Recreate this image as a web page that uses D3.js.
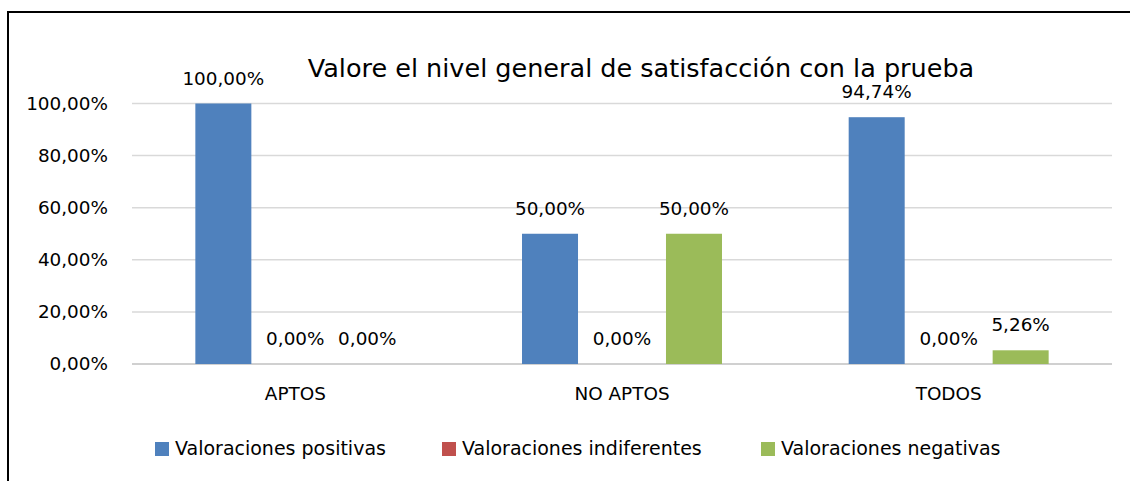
<!DOCTYPE html>
<html>
<head>
<meta charset="utf-8">
<script src="https://cdn.jsdelivr.net/npm/d3@7"></script>
<style>
body{margin:0;background:#fff}
text{font-family:"DejaVu Sans",sans-serif;fill:#000}
</style>
</head>
<body>
<script>
// data
var categories = ["APTOS", "NO APTOS", "TODOS"]
var series = ["Valoraciones positivas", "Valoraciones indiferentes", "Valoraciones negativas"]
var colors = ["#4F81BD", "#C0504D", "#9BBB59"]
var positivas = [1.0, 0.5, 0.9474]
var indiferentes = [0, 0, 0]
var negativas = [0, 0.5, 0.0526]
var yTicks = [0, 0.2, 0.4, 0.6, 0.8, 1.0]
var title = "Valore el nivel general de satisfacción con la prueba"

var values = [positivas, indiferentes, negativas]

var W = 1130, H = 481
var svg = d3.select("body").append("svg")
	.attr("width", W)
	.attr("height", H)

// outer frame
svg.append("rect")
	.attr("x", 8)
	.attr("y", 12)
	.attr("width", W + 20)
	.attr("height", H + 20)
	.attr("fill", "none")
	.attr("stroke", "#000")
	.attr("stroke-width", 2)

var plotL = 132, plotR = 1112, plotT = 103.5, plotB = 364

var x0 = d3.scaleBand().domain(categories).range([plotL, plotR])
var x1 = d3.scaleBand().domain(d3.range(series.length))
	.range([0, x0.bandwidth()])
	.paddingInner(0.222)
	.paddingOuter(0.88)
var y = d3.scaleLinear().domain([0, 1]).range([plotB, plotT])

var fmt = function(v){ return (v*100).toFixed(2).replace(".", ",") + "%" }

// gridlines
svg.append("g").selectAll("line")
	.data(yTicks)
	.enter().append("line")
		.attr("x1", plotL)
		.attr("x2", plotR)
		.attr("y1", function(d){ return y(d) })
		.attr("y2", function(d){ return y(d) })
		.attr("stroke", function(d){ return d == 0 ? "#d0d0d0" : "#d9d9d9" })
		.attr("stroke-width", function(d){ return d == 0 ? 2 : 1.5 })

// y labels
var yAxis = d3.axisLeft(y).tickValues(yTicks).tickFormat(fmt).tickSize(0).tickPadding(0)
var ga = svg.append("g")
	.attr("transform", "translate(108,0)")
	.call(yAxis)
ga.select(".domain").remove()
ga.selectAll("text")
	.attr("font-size", "18.4px")
	.attr("font-family", "DejaVu Sans")
	.attr("fill", "#000")

// bars
for (var s=0;s<series.length;s++){
	var g = svg.append("g")
	g.selectAll("rect")
		.data(values[s])
		.enter().append("rect")
			.attr("x", function(d,i){ return x0(categories[i]) + x1(s) })
			.attr("y", function(d){ return y(d) })
			.attr("width", x1.bandwidth())
			.attr("height", function(d){ return y(0) - y(d) })
			.attr("fill", colors[s])
	g.selectAll("text")
		.data(values[s])
		.enter().append("text")
			.attr("x", function(d,i){ return x0(categories[i]) + x1(s) + x1.bandwidth()/2 })
			.attr("y", function(d){ return y(d) - 19 })
			.attr("text-anchor", "middle")
			.attr("font-size", "18.4px")
			.text(function(d){ return fmt(d) })
}

// category labels
var xAxis = d3.axisBottom(x0).tickSize(0).tickPadding(0)
var gx = svg.append("g")
	.attr("transform", "translate(0,387)")
	.call(xAxis)
gx.select(".domain").remove()
gx.selectAll("text")
	.attr("font-size", "18.4px")
	.attr("font-family", "DejaVu Sans")
	.attr("fill", "#000")

// title
svg.append("text")
	.attr("x", 641)
	.attr("y", 77)
	.attr("text-anchor", "middle")
	.attr("font-size", "25.5px")
	.text(title)

// legend
var legX = [155, 442, 761]
var leg = svg.append("g")
for (var s=0;s<series.length;s++){
	leg.append("rect")
		.attr("x", legX[s])
		.attr("y", 442)
		.attr("width", 14)
		.attr("height", 14)
		.attr("fill", colors[s])
	leg.append("text")
		.attr("x", legX[s] + 20)
		.attr("y", 455)
		.attr("font-size", "19px")
		.text(series[s])
}
</script>
</body>
</html>
